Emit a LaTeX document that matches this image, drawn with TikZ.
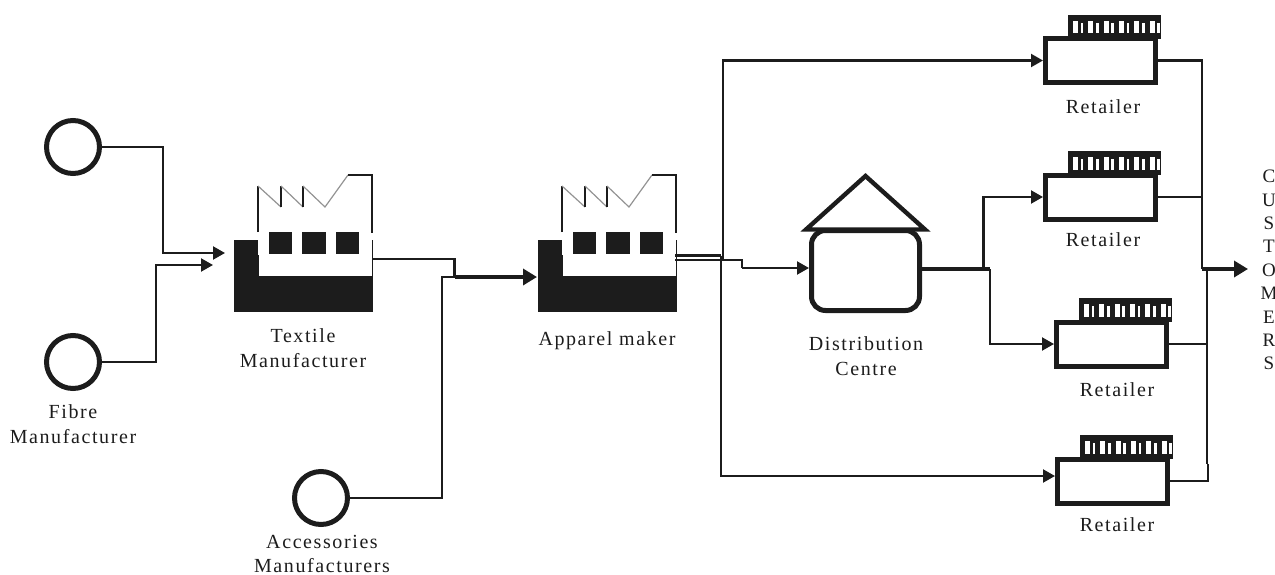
\documentclass[tikz,border=0pt]{standalone}
\usepackage{fontspec}
\usetikzlibrary{arrows.meta,positioning}
\setmainfont{Liberation Serif}
\newfontfamily\labfont[LetterSpace=8]{Liberation Serif}
\definecolor{ink}{HTML}{1c1c1c}
\tikzset{
  x=1pt,y=-1pt,
  wire/.style={draw=ink,line width=2.1pt,line join=miter},
  heavy/.style={draw=ink,line width=3.4pt},
  tip/.style={-{Triangle[length=12pt,width=13pt]}},
  bigtip/.style={-{Triangle[length=14pt,width=16pt]}},
  ring/.style={circle,draw=ink,line width=5pt,minimum size=53pt,inner sep=0pt,fill=white},
  label/.style={font=\labfont\fontsize{20}{24.5}\selectfont,text=ink,align=center,inner sep=0pt},
  block/.style={rectangle,fill=ink,minimum width=139pt,minimum height=72pt,inner sep=0pt,outer sep=0pt},
  winbox/.style={fill=ink},
  shop/.style={rectangle,draw=ink,line width=5pt,fill=white,minimum width=110pt,minimum height=44pt,inner sep=0pt},
  store/.style={rectangle,rounded corners=14pt,draw=ink,line width=5pt,minimum width=108pt,minimum height=80pt,inner sep=0pt},
  roofline/.style={draw=ink,line width=4.4pt,line join=miter,miter limit=3},
  walls/.style={draw=ink,line width=2.1pt},
  saw/.style={draw=gray!85,line width=1.2pt},
}
% factory: #1 node name, #2 x offset
\newcommand{\factoryshape}[2]{%
  \begin{scope}[shift={(#2,0)}]
    \node[block] (#1) at (303.5,276) {};
    \fill[white] (258,240) rectangle (371.5,276);
    \draw[walls] (258,232) -- (258,186);
    \draw[saw] (258,186) -- (281,207);
    \draw[walls] (281,207) -- (281,186);
    \draw[saw] (281,186) -- (303,207);
    \draw[walls] (303,207) -- (303,186);
    \draw[saw] (303,186) -- (325,207) -- (348,175);
    \draw[walls] (348,175) -- (372,175) -- (372,233);
    \draw[walls] (258,255) -- (258,277) -- (372,277);
    \fill[winbox] (269,232) rectangle (292,254);
    \fill[winbox] (302,232) rectangle (326,254);
    \fill[winbox] (336,232) rectangle (359,254);
  \end{scope}%
}
% retailer: #1 name, #2 centre x, #3 centre y
\newcommand{\retailshape}[3]{%
  \begin{scope}[shift={(#2,#3)}]
    \fill[ink] (-32.5,-22) rectangle (60,-46);
    \foreach \k in {0,...,5} {
      \fill[white] ({-27.5+15.3*\k},-40) rectangle ({-22.5+15.3*\k},-27.5);
      \fill[white] ({-19.8+15.3*\k},-38) rectangle ({-17.2+15.3*\k},-27.5);
    }
  \end{scope}
  \node[shop] (#1) at (#2,#3) {};%
}
\begin{document}
\begin{tikzpicture}
\useasboundingbox (0,0) rectangle (1275,574);

% sources
\node[ring] (fibreA) at (73,147) {};
\node[ring] (fibreB) at (73,362) {};
\node[ring] (access) at (321,498) {};

% factories
\factoryshape{textile}{0}
\factoryshape{apparel}{304}

% distribution centre
\node[store] (dist) at (865.5,270.5) {};
\draw[roofline] (806,229.5) -- (865.5,176) -- (925,229.5) -- cycle;

% retailers
\retailshape{shopA}{1100.5}{60.5}
\retailshape{shopB}{1100.5}{197}
\retailshape{shopC}{1111.5}{344}
\retailshape{shopD}{1112.5}{481}

% junctions
\coordinate (inA) at (225,253);
\coordinate (inB) at (213,265);
\coordinate (merge) at (442,277);
\coordinate (outHub) at (1202,269);
\coordinate (hubTip) at (1248,269);
\coordinate (joinC) at (1207,344);
\coordinate (joinTop) at (1208,464);
\coordinate (portT) at (372,259);
\coordinate (portU) at (675,255.5);
\coordinate (portV) at (675,260);
\coordinate (apIn) at (537,277);
\coordinate (distOut) at (dist.east |- outHub);

% connectors
\draw[wire,tip] (fibreA.east) -| (163,253) -- (inA);
\draw[wire,tip] (fibreB.east) -| (156,265) -- (inB);
\draw[wire] (portT) -| (454.5,277);
\draw[wire] (access.east) -| (merge) -- (454.5,277);
\draw[heavy,bigtip] (454.5,277) -- (apIn);

\draw[wire] (portU) -- (721,255.5);
\draw[wire,tip] (721,255.5) |- ([yshift=5pt]shopD.west);
\draw[wire,tip] (portV) -- (723,260) |- (shopA.west);
\draw[wire] (portV) -- (742,260) -- (742,268);
\draw[wire,tip] (742,268) -- ([yshift=2.5pt]dist.west);

\draw[heavy] (distOut) -- (990,269);
\draw[wire,tip] (983.5,269) |- (shopB.west);
\draw[wire,tip] (990,269) |- (shopC.west);

\draw[wire] (shopA.east) -| (outHub);
\draw[wire] (shopB.east) -- (1202,197);
\draw[wire] (shopC.east) -- (joinC);
\draw[wire] (shopD.east) -| (joinTop);
\draw[wire] (1207,269) -- (1207,464);
\draw[heavy,bigtip] (outHub) -- (hubTip);

% labels
\node[label] (lfibre) at (73,424) {Fibre\\Manufacturer};
\node[label] (ltextile) at (303,348) {Textile\\Manufacturer};
\node[label] (lapparel) at (607,341) {Apparel maker};
\node[label] (laccess) at (322,554) {Accessories\\Manufacturers};
\node[label] (ldist) at (866,356) {Distribution\\Centre};
\node[label] (lrA) at (1103,107) {Retailer};
\node[label] (lrB) at (1103,240) {Retailer};
\node[label] (lrC) at (1117,390) {Retailer};
\node[label] (lrD) at (1117,525) {Retailer};
\node[font=\fontsize{19}{23.4}\selectfont,text=ink,align=center,inner sep=0pt] (lcust) at (1269,270) {C\\U\\S\\T\\O\\M\\E\\R\\S};
\end{tikzpicture}
\end{document}
